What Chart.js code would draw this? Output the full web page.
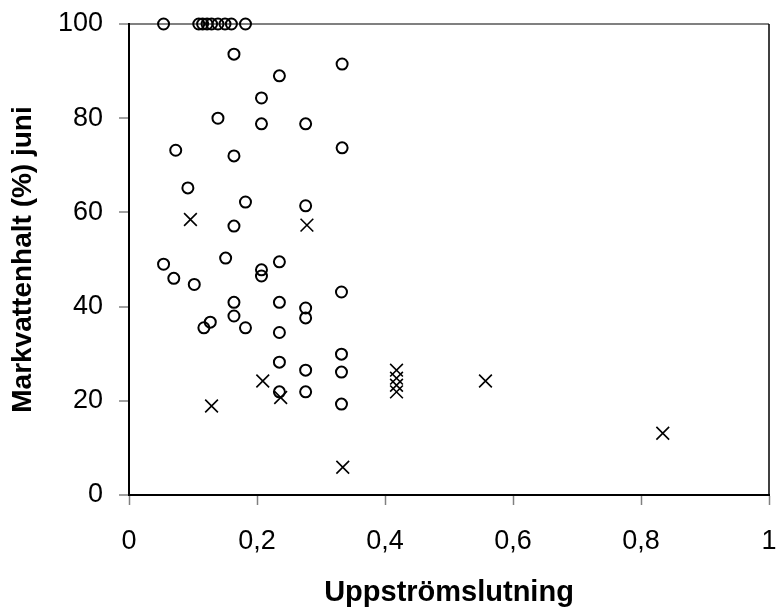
<!DOCTYPE html>
<html>
<head>
<meta charset="utf-8">
<script src="https://cdn.jsdelivr.net/npm/chart.js@4/dist/chart.umd.min.js"></script>
<style>
  html, body { margin: 0; padding: 0; background: #fff; }
  #plot { display: block; }
</style>
</head>
<body>
<canvas id="plot" width="776" height="612"></canvas>
<script>
// circles
const circleX = [0.054, 0.109, 0.115, 0.122, 0.129, 0.139, 0.150, 0.160, 0.182,
    0.164, 0.333, 0.235, 0.207, 0.139, 0.207, 0.276, 0.333, 0.073, 0.164,
    0.092, 0.182, 0.276, 0.164, 0.054, 0.151, 0.235, 0.207, 0.207, 0.070,
    0.102, 0.332, 0.164, 0.235, 0.276, 0.276, 0.164, 0.127, 0.117, 0.182,
    0.235, 0.332, 0.235, 0.276, 0.332, 0.235, 0.276, 0.332];
const circleY = [100, 100, 100, 100, 100, 100, 100, 100, 100,
    93.6, 91.5, 89.0, 84.3, 80.0, 78.8, 78.8, 73.7, 73.2, 72.0,
    65.2, 62.2, 61.4, 57.1, 49.0, 50.3, 49.5, 47.8, 46.5, 46.0,
    44.7, 43.1, 40.9, 40.9, 39.7, 37.6, 38.0, 36.7, 35.5, 35.5,
    34.5, 29.9, 28.2, 26.5, 26.1, 21.9, 21.9, 19.3];

// crosses
const crossX = [0.096, 0.278, 0.209, 0.237, 0.129, 0.334, 0.418, 0.418, 0.418, 0.418, 0.557, 0.834];
const crossY = [58.5, 57.3, 24.2, 20.7, 18.9, 5.9, 26.5, 24.8, 23.3, 21.9, 24.2, 13.1];

const xTickLabels = ['0', '0,2', '0,4', '0,6', '0,8', '1'];
const yTickLabels = ['0', '20', '40', '60', '80', '100'];

const toPoints = (xs, ys) => xs.map((x, i) => ({ x: x, y: ys[i] }));

// right-hand frame line
const frameRight = {
    id: 'frameRight',
    afterDraw(chart) {
        const a = chart.chartArea;
        const ctx = chart.ctx;
        ctx.save();
        ctx.strokeStyle = '#000';
        ctx.lineWidth = 1.5;
        ctx.beginPath();
        ctx.moveTo(a.right, a.top);
        ctx.lineTo(a.right, a.bottom);
        ctx.stroke();
        ctx.restore();
    }
};

const ctx = document.getElementById('plot').getContext('2d');
new Chart(ctx, {
    type: 'scatter',
    data: {
        datasets: [
            {
                label: 'o',
                data: toPoints(circleX, circleY),
                pointStyle: 'circle',
                pointRadius: 5.5,
                pointHoverRadius: 5.5,
                borderColor: '#000',
                backgroundColor: 'rgba(0,0,0,0)',
                borderWidth: 2,
                clip: false
            },
            {
                label: 'x',
                data: toPoints(crossX, crossY),
                pointStyle: 'crossRot',
                pointRadius: 9,
                pointHoverRadius: 9,
                borderColor: '#000',
                backgroundColor: '#000',
                borderWidth: 1.6,
                clip: false
            }
        ]
    },
    options: {
        responsive: false,
        animation: false,
        layout: { autoPadding: false, padding: { top: 24, right: 7, left: 0, bottom: 0 } },
        plugins: { legend: { display: false }, tooltip: { enabled: false } },
        scales: {
            x: {
                type: 'linear',
                min: 0,
                max: 1,
                afterFit: s => { s.height = 117; s.paddingLeft = 0; s.paddingRight = 0; },
                border: { color: '#000', width: 2 },
                grid: { drawOnChartArea: false, tickLength: 10, tickColor: '#808080', tickWidth: 1.5 },
                ticks: {
                    stepSize: 0.2,
                    padding: 20,
                    color: '#000',
                    font: { family: 'Liberation Sans, Arial', size: 27 },
                    callback: (v, i) => xTickLabels[i]
                },
                title: {
                    display: true,
                    text: 'Uppströmslutning',
                    color: '#000',
                    font: { family: 'Liberation Sans, Arial', size: 29, weight: 'bold' },
                    padding: { top: 18, bottom: 2 }
                }
            },
            y: {
                min: 0,
                max: 100,
                afterFit: s => { s.width = 129; s.paddingTop = 0; s.paddingBottom = 0; },
                border: { color: '#000', width: 2 },
                grid: {
                    tickLength: 10,
                    tickColor: '#808080',
                    tickWidth: 1.5,
                    color: c => (c.tick && c.tick.value === 100) ? '#808080' : 'rgba(0,0,0,0)',
                    lineWidth: 2
                },
                ticks: {
                    stepSize: 20,
                    padding: 16,
                    color: '#000',
                    font: { family: 'Liberation Sans, Arial', size: 27 },
                    callback: (v, i) => yTickLabels[i]
                },
                title: {
                    display: true,
                    text: 'Markvattenhalt (%) juni',
                    color: '#000',
                    font: { family: 'Liberation Sans, Arial', size: 28, weight: 'bold' },
                    padding: { top: 6, bottom: 17 }
                }
            }
        }
    },
    plugins: [frameRight]
});
</script>
</body>
</html>
